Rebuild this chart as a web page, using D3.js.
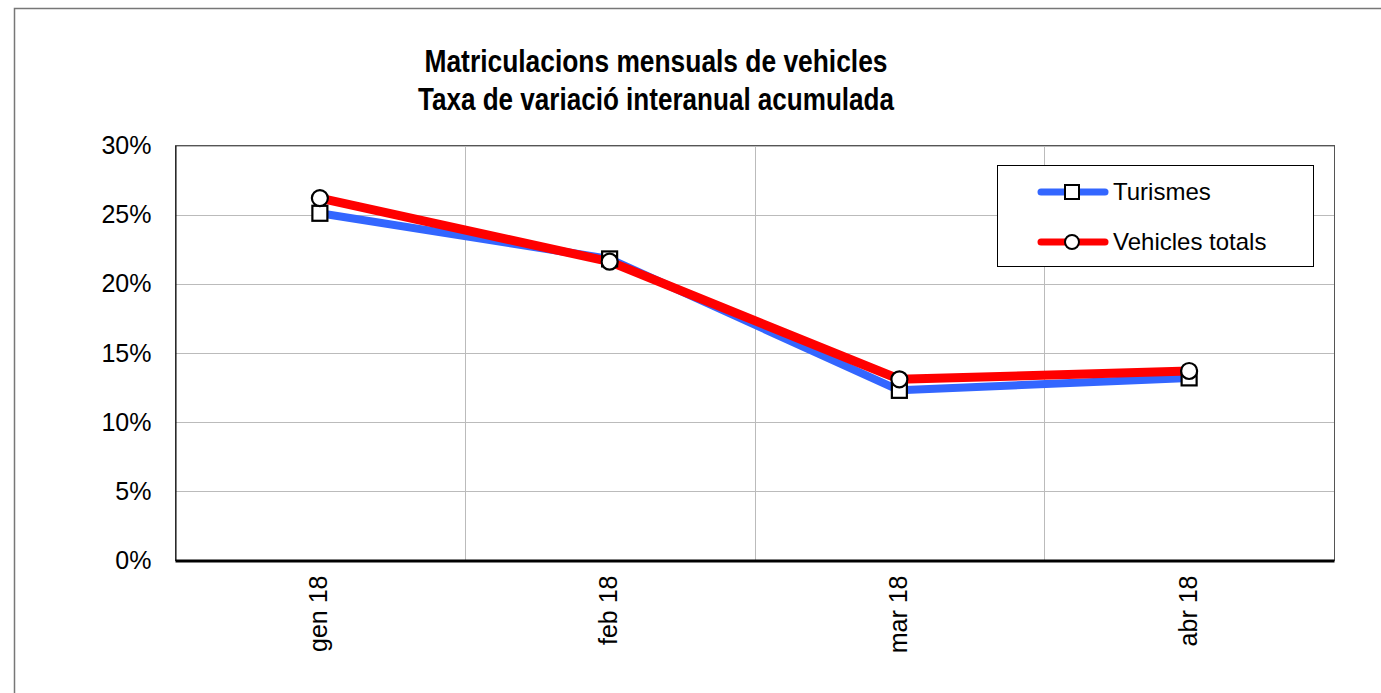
<!DOCTYPE html>
<html><head><meta charset="utf-8">
<script src="https://cdn.jsdelivr.net/npm/d3@7"></script>
<style>body{margin:0;background:#fff}svg{display:block;font-family:"Liberation Sans",Arial,sans-serif}</style>
</head><body>
<svg id="c" width="1381" height="693"></svg>
<script>
const categories = ["gen 18", "feb 18", "mar 18", "abr 18"];
const turismes = [0.251, 0.218, 0.123, 0.132];
const vehiclesTotals = [0.262, 0.216, 0.131, 0.137];
const yTicks = [0, 0.05, 0.10, 0.15, 0.20, 0.25, 0.30];
const seriesNames = ["Turismes", "Vehicles totals"];
const titleLines = ["Matriculacions mensuals de vehicles", "Taxa de variació interanual acumulada"];

const svg = d3.select("#c");
const L = 175, R = 1334, T = 145.5, B = 560.5;
const x = d3.scaleBand().domain(categories).range([L, R]);
const y = d3.scaleLinear().domain([0, 0.30]).range([B, T]);
const cx = c => x(c) + x.bandwidth() / 2;

// outer border
svg.append("rect").attr("x", 14.5).attr("y", 8.5).attr("width", 1400).attr("height", 720)
  .attr("fill", "none").attr("stroke", "#777").attr("stroke-width", 1.5);

// title
titleLines.forEach((t, i) => {
  svg.append("text").attr("x", 656).attr("y", 72 + i * 38).attr("text-anchor", "middle")
    .attr("font-size", 32).attr("font-weight", "bold").attr("fill", "#000")
    .attr("textLength", i === 0 ? 463 : 476).attr("lengthAdjust", "spacingAndGlyphs").text(t);
});

// gridlines
const g = svg.append("g");
g.selectAll(".hg").data(yTicks.slice(1)).join("line")
  .attr("x1", L).attr("x2", R).attr("y1", d => Math.round(y(d)) + 0.5).attr("y2", d => Math.round(y(d)) + 0.5)
  .attr("stroke", "#bbb").attr("stroke-width", 1);
g.selectAll(".vg").data(categories.slice(1)).join("line")
  .attr("x1", d => Math.round(x(d)) + 0.5).attr("x2", d => Math.round(x(d)) + 0.5).attr("y1", T).attr("y2", B)
  .attr("stroke", "#bbb").attr("stroke-width", 1);
// frame
svg.append("rect").attr("x", L + 0.5).attr("y", T).attr("width", R - L).attr("height", B - T)
  .attr("fill", "none").attr("stroke", "#555").attr("stroke-width", 1);

// y axis
const ya = svg.append("g").attr("transform", `translate(${L + 0.5},0)`)
  .call(d3.axisLeft(y).tickValues(yTicks).tickFormat(d3.format(".0%")).tickSize(0).tickPadding(24));
ya.select(".domain").attr("stroke", "#000");
ya.selectAll("text").attr("font-size", 25).attr("font-family", "Liberation Sans, Arial, sans-serif").attr("fill", "#000");

// x axis
const xa = svg.append("g").attr("transform", `translate(0,${B})`)
  .call(d3.axisBottom(x).tickSize(0).tickPadding(0));
xa.select(".domain").attr("stroke", "#000").attr("stroke-width", 3);
xa.selectAll("text").attr("font-size", 25).attr("font-family", "Liberation Sans, Arial, sans-serif").attr("fill", "#000")
  .attr("text-anchor", "end").attr("transform", "rotate(-90)").attr("x", -15).attr("y", 0).attr("dy", "0.3em");

// lines
const line = d3.line().x((d, i) => cx(categories[i])).y(d => y(d));
svg.append("path").datum(turismes).attr("d", line).attr("fill", "none")
  .attr("stroke", "#3366ff").attr("stroke-width", 8).attr("stroke-linejoin", "round");
svg.append("path").datum(vehiclesTotals).attr("d", line).attr("fill", "none")
  .attr("stroke", "#ff0000").attr("stroke-width", 9).attr("stroke-linejoin", "round");

// markers
const s = 15;
svg.selectAll(".sq").data(turismes).join("rect")
  .attr("x", (d, i) => cx(categories[i]) - s / 2).attr("y", d => y(d) - s / 2)
  .attr("width", s).attr("height", s).attr("fill", "#fff").attr("stroke", "#000").attr("stroke-width", 2.2);
svg.selectAll(".ci").data(vehiclesTotals).join("circle")
  .attr("cx", (d, i) => cx(categories[i])).attr("cy", d => y(d)).attr("r", 8)
  .attr("fill", "#fff").attr("stroke", "#000").attr("stroke-width", 2.2);

// legend
const lg = svg.append("g");
lg.append("rect").attr("x", 997.5).attr("y", 165.5).attr("width", 316).attr("height", 101)
  .attr("fill", "#fff").attr("stroke", "#000").attr("stroke-width", 1);
const colors = ["#3366ff", "#ff0000"];
seriesNames.forEach((n, i) => {
  const yy = 192 + i * 50;
  lg.append("line").attr("x1", 1041).attr("x2", 1105).attr("y1", yy).attr("y2", yy)
    .attr("stroke", colors[i]).attr("stroke-width", 7).attr("stroke-linecap", "round");
  if (i === 0) lg.append("rect").attr("x", 1065).attr("y", yy - 7).attr("width", 14).attr("height", 14)
    .attr("fill", "#fff").attr("stroke", "#000").attr("stroke-width", 2);
  else lg.append("circle").attr("cx", 1072).attr("cy", yy).attr("r", 7)
    .attr("fill", "#fff").attr("stroke", "#000").attr("stroke-width", 2);
  lg.append("text").attr("x", 1113).attr("y", yy).attr("dy", "0.35em").attr("font-size", 24)
    .attr("fill", "#000").text(n);
});
</script>
</body></html>
